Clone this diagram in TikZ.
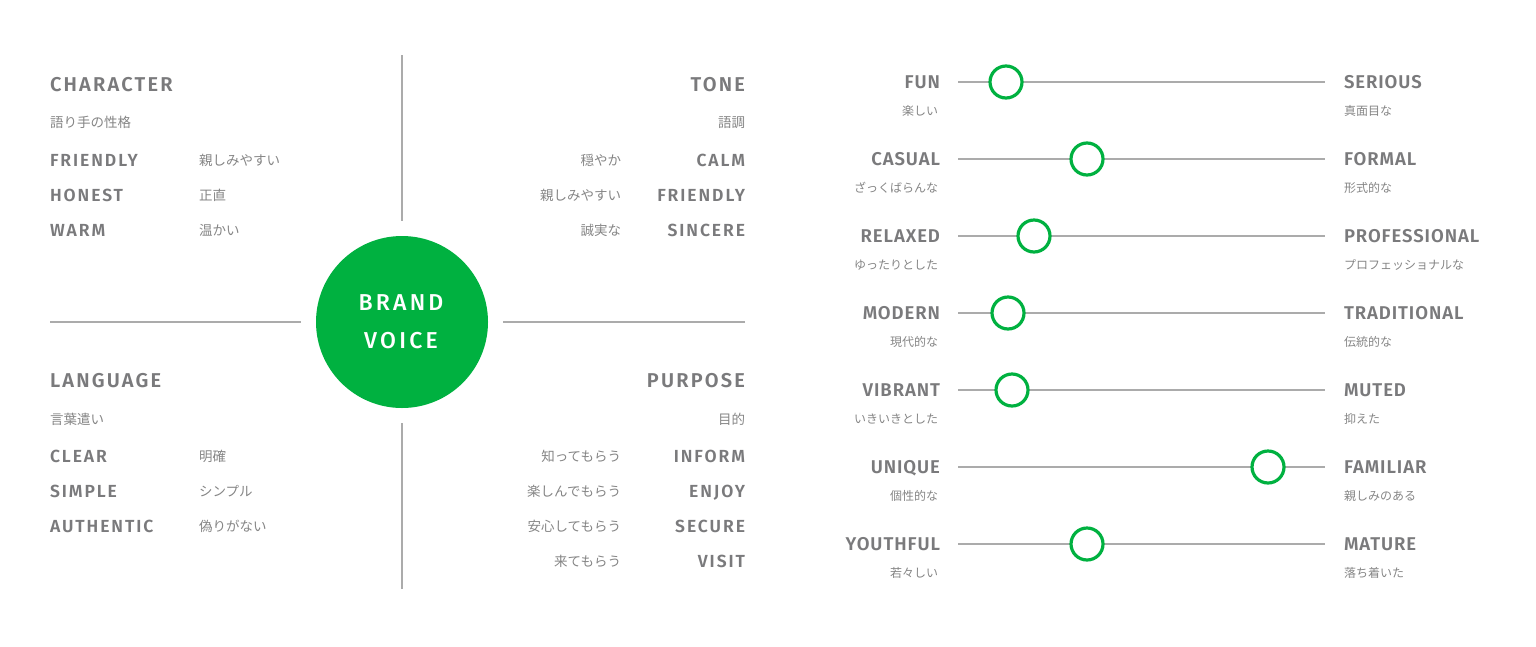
\documentclass[tikz,border=0pt]{standalone}
\usepackage{fontspec}
\usetikzlibrary{calc}
\setmainfont{Fira Sans}
\newfontfamily\jpfont{Noto Sans CJK JP}
\newfontfamily\hdfont[LetterSpace=11, BoldFont={Fira Sans SemiBold}]{Fira Sans}
\newfontfamily\slfont[LetterSpace=5, BoldFont={Fira Sans SemiBold}]{Fira Sans}
\newfontfamily\bvfont[LetterSpace=14, BoldFont={Fira Sans Medium}]{Fira Sans}
\definecolor{brandgreen}{HTML}{00B140}
\definecolor{txtgray}{HTML}{7A7A7C}
\definecolor{jpgray}{HTML}{858585}
\definecolor{linegray}{HTML}{ABABAB}
\tikzset{
  base/.style={inner sep=0pt, outer sep=0pt},
  headL/.style={base, anchor=mid west, text=txtgray, font=\hdfont\bfseries\fontsize{20}{22}\selectfont},
  headR/.style={headL, anchor=mid east},
  itemL/.style={base, anchor=mid west, text=txtgray, font=\hdfont\bfseries\fontsize{17.5}{20}\selectfont},
  itemR/.style={itemL, anchor=mid east},
  jpL/.style={base, anchor=mid west, text=jpgray, font=\jpfont\fontsize{13.5}{16}\selectfont},
  jpR/.style={jpL, anchor=mid east},
  slabL/.style={base, anchor=mid east, text=txtgray, font=\slfont\bfseries\fontsize{18.5}{20}\selectfont},
  slabR/.style={slabL, anchor=mid west},
  sjpL/.style={base, anchor=mid east, text=jpgray, font=\jpfont\fontsize{12}{14}\selectfont},
  sjpR/.style={sjpL, anchor=mid west},
  divider/.style={draw=linegray, line width=1.4pt},
  track/.style={draw=linegray, line width=1.5pt},
  knob/.style={circle, draw=brandgreen, line width=3.2pt, fill=white, minimum size=32pt, inner sep=0pt},
}
\begin{document}
\begin{tikzpicture}[x=1pt, y=-1pt]
\useasboundingbox (0,0) rectangle (1536,646);
% center
\node[circle, fill=brandgreen, minimum size=172pt, inner sep=0pt] (bv) at (402,322) {};
\node[base, text=white, font=\bvfont\bfseries\fontsize{23}{26}\selectfont, anchor=mid] (brand) at (401,308) {BRAND};
\node[base, text=white, font=\bvfont\bfseries\fontsize{23}{26}\selectfont, anchor=mid] (voice) at (401,346) {VOICE};
\coordinate (vt) at (402,55);
\coordinate (vb) at (402,589);
\coordinate (hl) at (50,322);
\coordinate (hr) at (745,322);
\draw[divider] (vt) -- ($(bv.north)+(0,-15)$);
\draw[divider] (vb) -- ($(bv.south)+(0,15)$);
\draw[divider] (hl) -- ($(bv.west)+(-15,0)$);
\draw[divider] (hr) -- ($(bv.east)+(15,0)$);
% CHARACTER
\node[headL] (ch) at (50,89) {CHARACTER};
\node[jpL] (chj) at (50,125) {語り手の性格};
\node[itemL] (c1) at (50,164) {FRIENDLY};
\node[itemL] (c2) at (50,199) {HONEST};
\node[itemL] (c3) at (50,234) {WARM};
\node[jpL] (c1j) at (199,163) {親しみやすい};
\node[jpL] (c2j) at (199,198) {正直};
\node[jpL] (c3j) at (199,233) {温かい};
% TONE
\node[headR] (to) at (745,89) {TONE};
\node[jpR] (toj) at (745,125) {語調};
\node[itemR] (t1) at (745,164) {CALM};
\node[itemR] (t2) at (745,199) {FRIENDLY};
\node[itemR] (t3) at (745,234) {SINCERE};
\node[jpR] (t1j) at (621,163) {穏やか};
\node[jpR] (t2j) at (621,198) {親しみやすい};
\node[jpR] (t3j) at (621,233) {誠実な};
% LANGUAGE
\node[headL] (la) at (50,385) {LANGUAGE};
\node[jpL] (laj) at (50,422) {言葉遣い};
\node[itemL] (l1) at (50,460) {CLEAR};
\node[itemL] (l2) at (50,495) {SIMPLE};
\node[itemL] (l3) at (50,530) {AUTHENTIC};
\node[jpL] (l1j) at (199,459) {明確};
\node[jpL] (l2j) at (199,494) {シンプル};
\node[jpL] (l3j) at (199,529) {偽りがない};
% PURPOSE
\node[headR] (pu) at (745,385) {PURPOSE};
\node[jpR] (puj) at (745,422) {目的};
\node[itemR] (p1) at (745,460) {INFORM};
\node[itemR] (p2) at (745,495) {ENJOY};
\node[itemR] (p3) at (745,530) {SECURE};
\node[itemR] (p4) at (745,565) {VISIT};
\node[jpR] (p1j) at (621,459) {知ってもらう};
\node[jpR] (p2j) at (621,494) {楽しんでもらう};
\node[jpR] (p3j) at (621,529) {安心してもらう};
\node[jpR] (p4j) at (621,564) {来てもらう};
% sliders
\foreach \i/\y/\k/\a/\aj/\b/\bj in {
  1/82/1006/FUN/楽しい/SERIOUS/真面目な,
  2/159/1087/CASUAL/ざっくばらんな/FORMAL/形式的な,
  3/236/1034/RELAXED/ゆったりとした/PROFESSIONAL/プロフェッショナルな,
  4/313/1008/MODERN/現代的な/TRADITIONAL/伝統的な,
  5/390/1012/VIBRANT/いきいきとした/MUTED/抑えた,
  6/467/1268/UNIQUE/個性的な/FAMILIAR/親しみのある,
  7/544/1087/YOUTHFUL/若々しい/MATURE/落ち着いた}{
  \coordinate (s\i a) at (958,\y);
  \coordinate (s\i b) at (1325,\y);
  \draw[track] (s\i a) -- (s\i b);
  \node[knob] (k\i) at (\k,\y) {};
  \node[slabL] (la\i) at (940,\y+4) {\a};
  \node[sjpL] (lj\i) at (938,\y+31) {\aj};
  \node[slabR] (ra\i) at (1344,\y+4) {\b};
  \node[sjpR] (rj\i) at (1344,\y+31) {\bj};
}
\end{tikzpicture}
\end{document}
